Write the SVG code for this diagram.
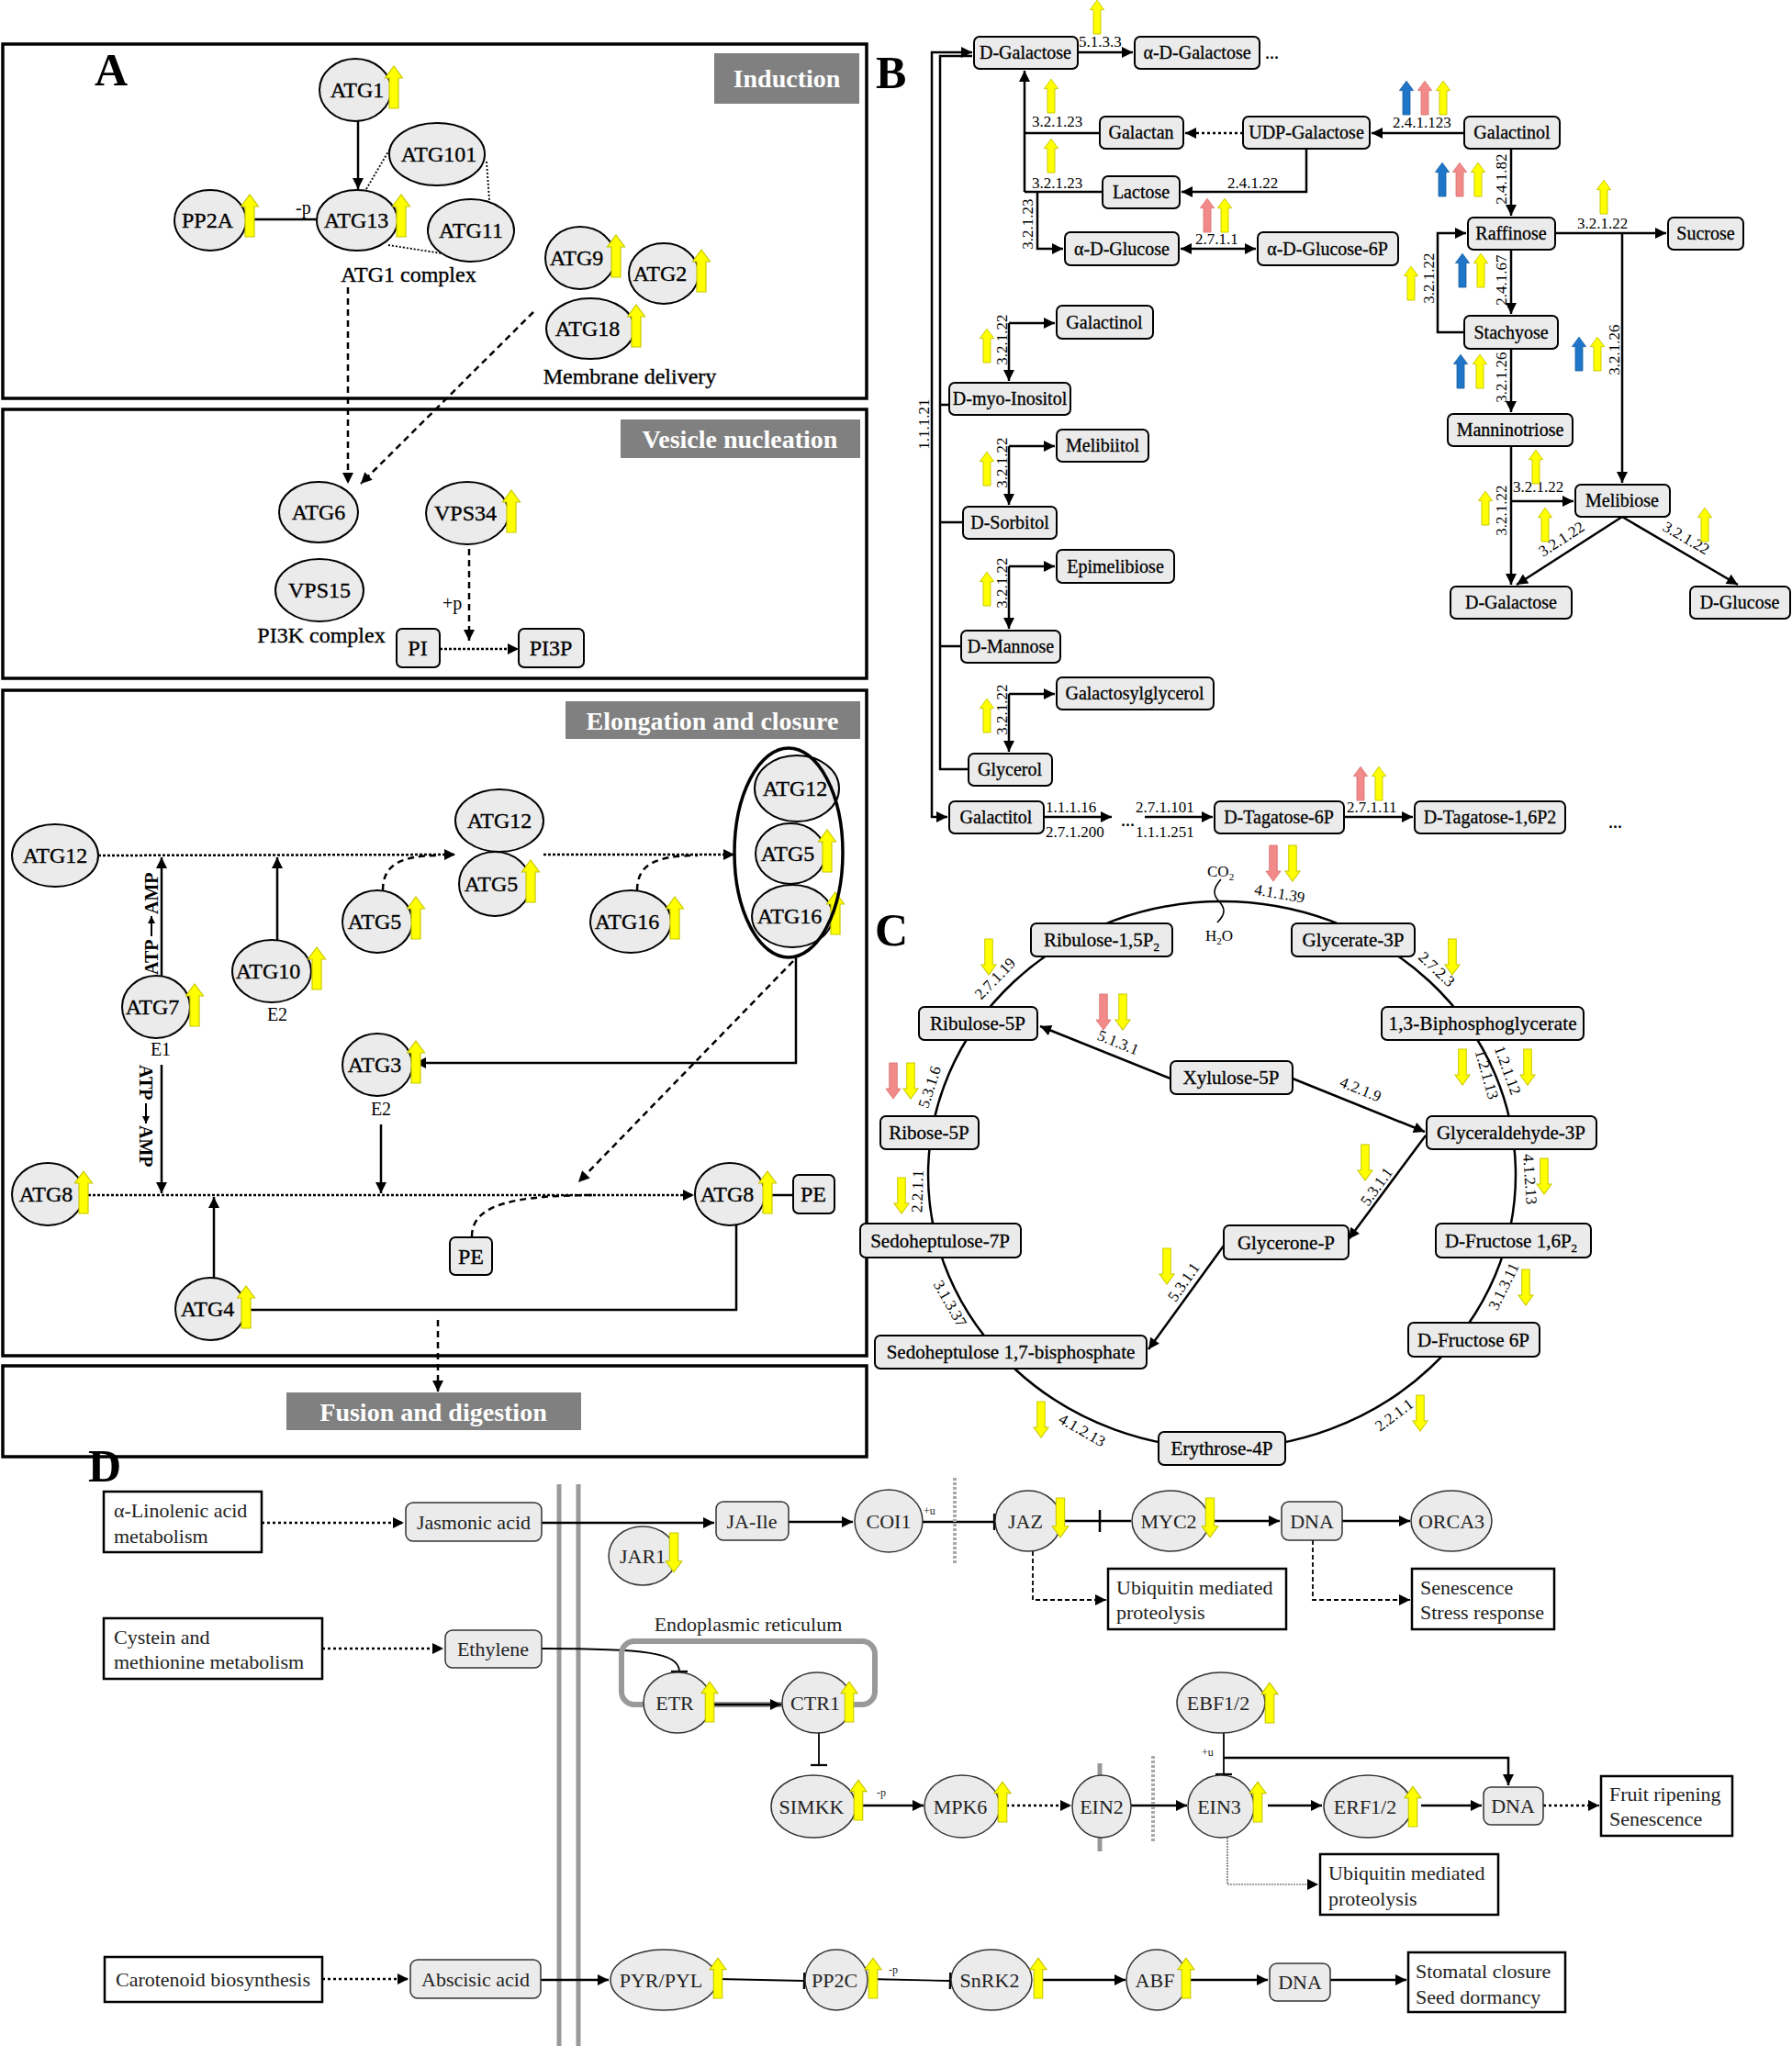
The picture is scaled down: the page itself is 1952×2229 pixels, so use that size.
<svg xmlns="http://www.w3.org/2000/svg" xmlns:xlink="http://www.w3.org/1999/xlink" width="1952" height="2229" viewBox="0 0 1952 2229">
<defs>
<style>
.s{font-family:"Liberation Serif","Times New Roman",serif}
.m{text-anchor:middle}
.a{font-size:24px;stroke:#000;stroke-width:0.35}
.w{font-size:20px;stroke:#000;stroke-width:0.3}
.c{font-size:21px;stroke:#000;stroke-width:0.3}
.e{font-size:17px}
.d{font-size:22px;fill:#222}
.sm{font-size:12px;fill:#222}
.big{font-size:50px;font-weight:bold}
.lab{font-size:28px;font-weight:bold;fill:#fff}
.n{fill:#ebebeb;stroke:#000;stroke-width:2}
.nd{fill:#ebebeb;stroke:#333;stroke-width:1.5}
.bx{fill:#ebebeb;stroke:#000;stroke-width:2}
.wb{fill:#fff;stroke:#000;stroke-width:2.5}
.pan{fill:none;stroke:#000;stroke-width:3.5}
.gl{fill:#808080}
.ln{fill:none;stroke:#000;stroke-width:2.5}
.th{fill:none;stroke:#000;stroke-width:1.8}
.dot{stroke-dasharray:3 3}
.dsh{stroke-dasharray:7 5}
.y{fill:#ffff00;stroke:#c8c800;stroke-width:1.2}
.bl{fill:#1f76c9;stroke:#165da0;stroke-width:1}
.pk{fill:#f38a8a;stroke:#d87070;stroke-width:1}
.gray{fill:none;stroke:#9a9a9a;stroke-width:5}
</style>
<marker id="ah" viewBox="0 0 10 10" refX="10" refY="5" markerWidth="15" markerHeight="12" markerUnits="userSpaceOnUse" orient="auto-start-reverse"><path d="M0,0L10,5L0,10Z"/></marker>
<marker id="as" viewBox="0 0 10 10" refX="10" refY="5" markerWidth="9" markerHeight="8" markerUnits="userSpaceOnUse" orient="auto"><path d="M0,0L10,5L0,10Z"/></marker>
<marker id="tb" viewBox="0 0 4 20" refX="2" refY="10" markerWidth="4" markerHeight="18" markerUnits="userSpaceOnUse" orient="auto"><path d="M2,0V20" stroke="#000" stroke-width="2.5"/></marker>
<path id="au" d="M-5,0V-33H-9.5L0,-46L9.5,-33H5V0Z"/>
<path id="ad" d="M-5,0V33H-9.5L0,46L9.5,33H5V0Z"/>
</defs>
<rect width="1952" height="2229" fill="#fff"/>

<!-- ================= PANEL A ================= -->
<g id="panelA-frames">
<rect class="pan" x="3" y="48" width="941" height="386"/>
<rect class="pan" x="3" y="446" width="941" height="293"/>
<rect class="pan" x="3" y="752" width="941" height="725"/>
<rect class="pan" x="3" y="1488" width="941" height="99"/>
<text class="s big" x="103" y="93">A</text>
<rect class="gl" x="778" y="58" width="158" height="55"/>
<text class="s lab m" x="857" y="95">Induction</text>
<rect class="gl" x="676" y="457" width="261" height="42"/>
<text class="s lab m" x="806" y="488">Vesicle nucleation</text>
<rect class="gl" x="616" y="764" width="321" height="41"/>
<text class="s lab m" x="776" y="795">Elongation and closure</text>
<rect class="gl" x="312" y="1517" width="321" height="41"/>
<text class="s lab m" x="472" y="1548">Fusion and digestion</text>
</g>

<g id="connectors-A">
<line class="ln" x1="390" y1="132" x2="390" y2="206" marker-end="url(#ah)"/>
<line class="ln" x1="268" y1="239" x2="345" y2="239" stroke-width="3"/>
<text class="s" x="322" y="233" font-size="20">-p</text>
<line class="th" stroke-dasharray="2 2" x1="399" y1="206" x2="426" y2="160"/>
<line class="th" stroke-dasharray="2 2" x1="530" y1="176" x2="533" y2="218"/>
<line class="th" stroke-dasharray="2 2" x1="423" y1="267" x2="481" y2="276"/>
<line class="ln dsh" x1="379" y1="313" x2="379" y2="527" marker-end="url(#ah)"/>
<line class="ln dsh" x1="581" y1="340" x2="393" y2="527" marker-end="url(#ah)"/>
<line class="ln dsh" x1="511" y1="598" x2="511" y2="698" marker-end="url(#ah)"/>
<text class="s" x="482" y="664" font-size="20">+p</text>
<line class="ln" stroke-width="3" stroke-dasharray="3 2" x1="479" y1="707" x2="565" y2="707" marker-end="url(#ah)"/>

<line class="ln" stroke-width="3" stroke-dasharray="3 2" x1="107" y1="932" x2="496" y2="931" marker-end="url(#ah)"/>
<line class="ln" x1="176" y1="1063" x2="176" y2="934" marker-end="url(#ah)"/>
<g transform="translate(172,1062) rotate(-90)"><text class="s" font-size="20" font-weight="bold">ATP</text><line x1="42" y1="-7" x2="64" y2="-7" stroke="#000" stroke-width="2" marker-end="url(#as)"/><text class="s" x="66" font-size="20" font-weight="bold">AMP</text></g>
<line class="ln" x1="176" y1="1160" x2="176" y2="1300" marker-end="url(#ah)"/>
<g transform="translate(152,1160) rotate(90)"><text class="s" font-size="20" font-weight="bold">ATP</text><line x1="42" y1="-7" x2="64" y2="-7" stroke="#000" stroke-width="2" marker-end="url(#as)"/><text class="s" x="66" font-size="20" font-weight="bold">AMP</text></g>
<line class="ln" x1="302" y1="1024" x2="302" y2="934" marker-end="url(#ah)"/>
<path class="ln dsh" stroke-width="2.5" d="M417,970C417,942 436,932 480,932"/>
<line class="ln" stroke-width="3" stroke-dasharray="3 2" x1="592" y1="931" x2="800" y2="931" marker-end="url(#ah)"/>
<path class="ln dsh" d="M694,970C694,942 714,932 760,932"/>
<path class="ln" stroke-width="3" d="M867,1043V1158H452" marker-end="url(#ah)"/>
<line class="ln dsh" x1="864" y1="1047" x2="630" y2="1288" marker-end="url(#ah)"/>
<line class="ln" x1="415" y1="1225" x2="415" y2="1300" marker-end="url(#ah)"/>
<line class="ln" stroke-width="3" stroke-dasharray="3 2" x1="91" y1="1302" x2="756" y2="1302" marker-end="url(#ah)"/>
<line class="ln" x1="233" y1="1392" x2="233" y2="1304" marker-end="url(#ah)"/>
<path class="ln dsh" d="M514,1347C514,1312 560,1302 650,1302"/>
<line class="ln" stroke-width="3" x1="833" y1="1302" x2="864" y2="1302"/>
<path class="ln" stroke-width="3" d="M272,1427H802V1335"/>
<line class="ln dsh" x1="477" y1="1438" x2="477" y2="1516" marker-end="url(#ah)"/>
</g>

<g id="nodes-A">
<g id="a-atg1"><ellipse class="n" cx="387" cy="98" rx="39" ry="34"/><text class="s a m" x="389" y="106">ATG1</text><use href="#au" class="y" transform="translate(429,118)"/></g>
<g id="a-atg101"><ellipse class="n" cx="476" cy="168" rx="52" ry="34"/><text class="s a m" x="478" y="176">ATG101</text></g>
<g id="a-atg13"><ellipse class="n" cx="389" cy="240" rx="44" ry="33"/><text class="s a m" x="388" y="248">ATG13</text><use href="#au" class="y" transform="translate(437,258)"/></g>
<g id="a-pp2a"><ellipse class="n" cx="229" cy="240" rx="39" ry="33"/><text class="s a m" x="226" y="248">PP2A</text><use href="#au" class="y" transform="translate(272,258)"/></g>
<g id="a-atg11"><ellipse class="n" cx="513" cy="251" rx="47" ry="34"/><text class="s a m" x="513" y="259">ATG11</text></g>
<text class="s a m" x="445" y="307">ATG1 complex</text>
<g id="a-atg9"><ellipse class="n" cx="632" cy="281" rx="38" ry="34"/><text class="s a m" x="628" y="289">ATG9</text><use href="#au" class="y" transform="translate(671,302)"/></g>
<g id="a-atg2"><ellipse class="n" cx="723" cy="298" rx="38" ry="33"/><text class="s a m" x="719" y="306">ATG2</text><use href="#au" class="y" transform="translate(764,318)"/></g>
<g id="a-atg18"><ellipse class="n" cx="643" cy="358" rx="48" ry="33"/><text class="s a m" x="640" y="366">ATG18</text><use href="#au" class="y" transform="translate(693,378)"/></g>
<text class="s a m" x="686" y="418">Membrane delivery</text>

<g id="a-atg6"><ellipse class="n" cx="347" cy="558" rx="43" ry="33"/><text class="s a m" x="347" y="566">ATG6</text></g>
<g id="a-vps34"><ellipse class="n" cx="509" cy="559" rx="45" ry="34"/><text class="s a m" x="507" y="567">VPS34</text><use href="#au" class="y" transform="translate(557,580)"/></g>
<g id="a-vps15"><ellipse class="n" cx="348" cy="643" rx="48" ry="34"/><text class="s a m" x="348" y="651">VPS15</text></g>
<text class="s a m" x="350" y="700">PI3K complex</text>
<g id="a-pi"><rect class="bx" x="432" y="685" width="47" height="42" rx="6"/><text class="s a m" x="455" y="714">PI</text></g>
<g id="a-pi3p"><rect class="bx" x="565" y="685" width="71" height="42" rx="6"/><text class="s a m" x="600" y="714">PI3P</text></g>

<g id="a-atg12a"><ellipse class="n" cx="60" cy="932" rx="47" ry="34"/><text class="s a m" x="60" y="940">ATG12</text></g>
<g id="a-atg7"><ellipse class="n" cx="170" cy="1097" rx="37" ry="34"/><text class="s a m" x="166" y="1105">ATG7</text><use href="#au" class="y" transform="translate(212,1118)"/></g>
<text class="s m" x="175" y="1150" font-size="20">E1</text>
<g id="a-atg10"><ellipse class="n" cx="296" cy="1058" rx="43" ry="34"/><text class="s a m" x="292" y="1066">ATG10</text><use href="#au" class="y" transform="translate(345,1078)"/></g>
<text class="s m" x="302" y="1112" font-size="20">E2</text>
<g id="a-atg5a"><ellipse class="n" cx="411" cy="1004" rx="38" ry="34"/><text class="s a m" x="408" y="1012">ATG5</text><use href="#au" class="y" transform="translate(453,1023)"/></g>
<g id="a-atg12b"><ellipse class="n" cx="544" cy="894" rx="48" ry="34"/><text class="s a m" x="544" y="902">ATG12</text></g>
<g id="a-atg5b"><ellipse class="n" cx="539" cy="963" rx="39" ry="35"/><text class="s a m" x="535" y="971">ATG5</text><use href="#au" class="y" transform="translate(578,983)"/></g>
<g id="a-atg16a"><ellipse class="n" cx="687" cy="1004" rx="44" ry="34"/><text class="s a m" x="683" y="1012">ATG16</text><use href="#au" class="y" transform="translate(735,1023)"/></g>
<g id="a-complex">
<ellipse class="n" cx="868" cy="859" rx="46" ry="36"/><text class="s a m" x="866" y="867">ATG12</text>
<ellipse class="n" cx="861" cy="930" rx="38" ry="33"/><text class="s a m" x="858" y="938">ATG5</text><use href="#au" class="y" transform="translate(901,950)"/>
<ellipse class="n" cx="863" cy="998" rx="44" ry="34"/><text class="s a m" x="860" y="1006">ATG16</text><use href="#au" class="y" transform="translate(910,1018)"/>
<ellipse cx="859" cy="929" rx="59" ry="114" fill="none" stroke="#000" stroke-width="3.5"/>
</g>
<g id="a-atg3"><ellipse class="n" cx="411" cy="1160" rx="38" ry="34"/><text class="s a m" x="408" y="1168">ATG3</text><use href="#au" class="y" transform="translate(453,1180)"/></g>
<text class="s m" x="415" y="1215" font-size="20">E2</text>
<g id="a-atg8a"><ellipse class="n" cx="52" cy="1301" rx="39" ry="34"/><text class="s a m" x="50" y="1309">ATG8</text><use href="#au" class="y" transform="translate(91,1322)"/></g>
<g id="a-atg8b"><ellipse class="n" cx="795" cy="1301" rx="38" ry="34"/><text class="s a m" x="792" y="1309">ATG8</text><use href="#au" class="y" transform="translate(836,1322)"/></g>
<g id="a-pe1"><rect class="bx" x="864" y="1280" width="45" height="42" rx="6"/><text class="s a m" x="886" y="1309">PE</text></g>
<g id="a-pe2"><rect class="bx" x="490" y="1348" width="46" height="41" rx="6"/><text class="s a m" x="513" y="1377">PE</text></g>
<g id="a-atg4"><ellipse class="n" cx="229" cy="1426" rx="38" ry="34"/><text class="s a m" x="226" y="1434">ATG4</text><use href="#au" class="y" transform="translate(268,1447)"/></g>
</g>

<!-- ================= PANEL B ================= -->
<text class="s big" x="954" y="96">B</text>
<g id="connectors-B">
<path class="ln" d="M1059,57H1015V890H1032" marker-end="url(#ah)" marker-start="url(#ah)"/>
<path class="ln" d="M1059,61H1024V838H1055"/>
<path class="ln" d="M1024,441H1034M1024,569H1049M1024,704H1047"/>
<text class="s e m" transform="translate(1012,462) rotate(-90)">1.1.1.21</text>
<line class="ln" x1="1174" y1="57" x2="1234" y2="57" marker-end="url(#ah)"/>
<text class="s e" x="1175" y="51">5.1.3.3</text>
<text class="s w" x="1378" y="64">...</text>
<path class="ln" d="M1116,209V77" marker-end="url(#ah)"/>
<path class="ln" d="M1198,145H1116M1201,209H1116"/>
<text class="s e" x="1124" y="138">3.2.1.23</text>
<text class="s e" x="1124" y="205">3.2.1.23</text>
<path class="ln" d="M1130,209V271H1158" marker-end="url(#ah)"/>
<text class="s e m" transform="translate(1125,244) rotate(-90)">3.2.1.23</text>
<line class="ln dot" x1="1354" y1="145" x2="1291" y2="145" marker-end="url(#ah)"/>
<line class="ln" x1="1595" y1="145" x2="1494" y2="145" marker-end="url(#ah)"/>
<text class="s e" x="1517" y="139">2.4.1.123</text>
<path class="ln" d="M1423,162V209H1287" marker-end="url(#ah)"/>
<text class="s e" x="1337" y="205">2.4.1.22</text>
<line class="ln" x1="1286" y1="271" x2="1368" y2="271" marker-end="url(#ah)" marker-start="url(#ah)"/>
<text class="s e" x="1302" y="266">2.7.1.1</text>
<line class="ln" x1="1646" y1="162" x2="1646" y2="235" marker-end="url(#ah)"/>
<text class="s e m" transform="translate(1641,195) rotate(-90)">2.4.1.82</text>
<line class="ln" x1="1694" y1="254" x2="1815" y2="254" marker-end="url(#ah)"/>
<text class="s e" x="1718" y="249">3.2.1.22</text>
<line class="ln" x1="1767" y1="254" x2="1767" y2="526" marker-end="url(#ah)"/>
<text class="s e m" transform="translate(1764,381) rotate(-90)">3.2.1.26</text>
<line class="ln" x1="1646" y1="272" x2="1646" y2="342" marker-end="url(#ah)"/>
<text class="s e m" transform="translate(1641,305) rotate(-90)">2.4.1.67</text>
<path class="ln" d="M1595,362H1566V254H1597" marker-end="url(#ah)"/>
<text class="s e m" transform="translate(1562,303) rotate(-90)">3.2.1.22</text>
<line class="ln" x1="1646" y1="380" x2="1646" y2="449" marker-end="url(#ah)"/>
<text class="s e m" transform="translate(1641,411) rotate(-90)">3.2.1.26</text>
<line class="ln" x1="1646" y1="486" x2="1646" y2="637" marker-end="url(#ah)"/>
<line class="ln" x1="1646" y1="546" x2="1714" y2="546" marker-end="url(#ah)"/>
<text class="s e" x="1648" y="536">3.2.1.22</text>
<text class="s e m" transform="translate(1641,556) rotate(-90)">3.2.1.22</text>
<line class="ln" x1="1767" y1="563" x2="1652" y2="637" marker-end="url(#ah)"/>
<text class="s e m" transform="translate(1704,592) rotate(-33)">3.2.1.22</text>
<line class="ln" x1="1767" y1="563" x2="1893" y2="637" marker-end="url(#ah)"/>
<text class="s e m" transform="translate(1834,591) rotate(30)">3.2.1.22</text>

<path class="ln" d="M1099,352V415" marker-end="url(#ah)"/>
<path class="ln" d="M1099,352H1149" marker-end="url(#ah)"/>
<text class="s e m" transform="translate(1097,370) rotate(-90)">3.2.1.22</text>
<path class="ln" d="M1099,486V550" marker-end="url(#ah)"/>
<path class="ln" d="M1099,486H1149" marker-end="url(#ah)"/>
<text class="s e m" transform="translate(1097,504) rotate(-90)">3.2.1.22</text>
<path class="ln" d="M1099,617V685" marker-end="url(#ah)"/>
<path class="ln" d="M1099,617H1149" marker-end="url(#ah)"/>
<text class="s e m" transform="translate(1097,635) rotate(-90)">3.2.1.22</text>
<path class="ln" d="M1099,756V819" marker-end="url(#ah)"/>
<path class="ln" d="M1099,756H1149" marker-end="url(#ah)"/>
<text class="s e m" transform="translate(1097,773) rotate(-90)">3.2.1.22</text>

<line class="ln" x1="1137" y1="890" x2="1211" y2="890" marker-end="url(#ah)"/>
<text class="s e" x="1139" y="885">1.1.1.16</text>
<text class="s e" x="1139" y="912">2.7.1.200</text>
<text class="s w" x="1221" y="900">...</text>
<line class="ln" x1="1247" y1="890" x2="1321" y2="890" marker-end="url(#ah)"/>
<text class="s e" x="1237" y="885">2.7.1.101</text>
<text class="s e" x="1237" y="912">1.1.1.251</text>
<line class="ln" x1="1464" y1="890" x2="1539" y2="890" marker-end="url(#ah)"/>
<text class="s e" x="1467" y="885">2.7.1.11</text>
<text class="s w" x="1752" y="902">...</text>
</g>

<g id="arrows-B">
<use href="#au" class="y" transform="translate(1195,37) scale(0.8)"/>
<use href="#au" class="y" transform="translate(1145,123) scale(0.8)"/>
<use href="#au" class="y" transform="translate(1145,188) scale(0.8)"/>
<use href="#au" class="bl" transform="translate(1532,125) scale(0.8)"/>
<use href="#au" class="pk" transform="translate(1552,125) scale(0.8)"/>
<use href="#au" class="y" transform="translate(1572,125) scale(0.8)"/>
<use href="#au" class="pk" transform="translate(1315,253) scale(0.8)"/>
<use href="#au" class="y" transform="translate(1334,253) scale(0.8)"/>
<use href="#au" class="bl" transform="translate(1571,214) scale(0.8)"/>
<use href="#au" class="pk" transform="translate(1590,214) scale(0.8)"/>
<use href="#au" class="y" transform="translate(1610,214) scale(0.8)"/>
<use href="#au" class="y" transform="translate(1747,233) scale(0.8)"/>
<use href="#au" class="y" transform="translate(1537,327) scale(0.8)"/>
<use href="#au" class="bl" transform="translate(1593,313) scale(0.8)"/>
<use href="#au" class="y" transform="translate(1613,313) scale(0.8)"/>
<use href="#au" class="bl" transform="translate(1720,404) scale(0.8)"/>
<use href="#au" class="y" transform="translate(1740,404) scale(0.8)"/>
<use href="#au" class="bl" transform="translate(1591,423) scale(0.8)"/>
<use href="#au" class="y" transform="translate(1612,423) scale(0.8)"/>
<use href="#au" class="y" transform="translate(1673,527) scale(0.8)"/>
<use href="#au" class="y" transform="translate(1618,572) scale(0.8)"/>
<use href="#au" class="y" transform="translate(1683,590) scale(0.8)"/>
<use href="#au" class="y" transform="translate(1857,590) scale(0.8)"/>
<use href="#au" class="y" transform="translate(1075,395) scale(0.8)"/>
<use href="#au" class="y" transform="translate(1075,529) scale(0.8)"/>
<use href="#au" class="y" transform="translate(1075,660) scale(0.8)"/>
<use href="#au" class="y" transform="translate(1075,798) scale(0.8)"/>
<use href="#au" class="pk" transform="translate(1482,872) scale(0.8)"/>
<use href="#au" class="y" transform="translate(1502,872) scale(0.8)"/>
</g>

<g id="nodes-B">
<g id="b-dgal1"><rect class="bx" x="1061" y="40" width="113" height="35" rx="6"/><text class="s w m" x="1117" y="64">D-Galactose</text></g>
<g id="b-adgal"><rect class="bx" x="1236" y="40" width="136" height="35" rx="6"/><text class="s w m" x="1304" y="64">α-D-Galactose</text></g>
<g id="b-galactan"><rect class="bx" x="1198" y="127" width="91" height="35" rx="6"/><text class="s w m" x="1243" y="151">Galactan</text></g>
<g id="b-udpgal"><rect class="bx" x="1354" y="127" width="138" height="35" rx="6"/><text class="s w m" x="1423" y="151">UDP-Galactose</text></g>
<g id="b-galactinol1"><rect class="bx" x="1595" y="127" width="104" height="35" rx="6"/><text class="s w m" x="1647" y="151">Galactinol</text></g>
<g id="b-lactose"><rect class="bx" x="1201" y="192" width="84" height="35" rx="6"/><text class="s w m" x="1243" y="216">Lactose</text></g>
<g id="b-adglc"><rect class="bx" x="1160" y="253" width="124" height="36" rx="6"/><text class="s w m" x="1222" y="278">α-D-Glucose</text></g>
<g id="b-adglc6p"><rect class="bx" x="1370" y="253" width="153" height="36" rx="6"/><text class="s w m" x="1446" y="278">α-D-Glucose-6P</text></g>
<g id="b-raffinose"><rect class="bx" x="1599" y="237" width="95" height="35" rx="6"/><text class="s w m" x="1646" y="261">Raffinose</text></g>
<g id="b-sucrose"><rect class="bx" x="1817" y="237" width="82" height="35" rx="6"/><text class="s w m" x="1858" y="261">Sucrose</text></g>
<g id="b-stachyose"><rect class="bx" x="1595" y="344" width="102" height="36" rx="6"/><text class="s w m" x="1646" y="369">Stachyose</text></g>
<g id="b-manninotriose"><rect class="bx" x="1577" y="451" width="136" height="35" rx="6"/><text class="s w m" x="1645" y="475">Manninotriose</text></g>
<g id="b-melibiose"><rect class="bx" x="1716" y="528" width="103" height="35" rx="6"/><text class="s w m" x="1767" y="552">Melibiose</text></g>
<g id="b-dgal2"><rect class="bx" x="1580" y="639" width="132" height="35" rx="6"/><text class="s w m" x="1646" y="663">D-Galactose</text></g>
<g id="b-dglc"><rect class="bx" x="1841" y="639" width="109" height="35" rx="6"/><text class="s w m" x="1895" y="663">D-Glucose</text></g>
<g id="b-galactinol2"><rect class="bx" x="1151" y="333" width="105" height="36" rx="6"/><text class="s w m" x="1203" y="358">Galactinol</text></g>
<g id="b-dmyo"><rect class="bx" x="1034" y="417" width="132" height="35" rx="6"/><text class="s w m" x="1100" y="441">D-myo-Inositol</text></g>
<g id="b-melibiitol"><rect class="bx" x="1151" y="468" width="100" height="35" rx="6"/><text class="s w m" x="1201" y="492">Melibiitol</text></g>
<g id="b-dsorbitol"><rect class="bx" x="1049" y="552" width="102" height="35" rx="6"/><text class="s w m" x="1100" y="576">D-Sorbitol</text></g>
<g id="b-epimelibiose"><rect class="bx" x="1151" y="599" width="128" height="36" rx="6"/><text class="s w m" x="1215" y="624">Epimelibiose</text></g>
<g id="b-dmannose"><rect class="bx" x="1047" y="687" width="108" height="35" rx="6"/><text class="s w m" x="1101" y="711">D-Mannose</text></g>
<g id="b-galactosylglycerol"><rect class="bx" x="1151" y="738" width="171" height="35" rx="6"/><text class="s w m" x="1236" y="762">Galactosylglycerol</text></g>
<g id="b-glycerol"><rect class="bx" x="1055" y="821" width="91" height="35" rx="6"/><text class="s w m" x="1100" y="845">Glycerol</text></g>
<g id="b-galactitol"><rect class="bx" x="1034" y="873" width="103" height="35" rx="6"/><text class="s w m" x="1085" y="897">Galactitol</text></g>
<g id="b-dtag6p"><rect class="bx" x="1323" y="873" width="141" height="35" rx="6"/><text class="s w m" x="1393" y="897">D-Tagatose-6P</text></g>
<g id="b-dtag16p2"><rect class="bx" x="1541" y="873" width="164" height="35" rx="6"/><text class="s w m" x="1623" y="897">D-Tagatose-1,6P2</text></g>
</g>

<!-- ================= PANEL C ================= -->
<text class="s big" x="953" y="1030">C</text>
<g id="connectors-C">
<ellipse cx="1331" cy="1280" rx="320" ry="298" fill="none" stroke="#000" stroke-width="2.5"/>
<path d="M1330,958C1321,968 1321,975 1328,982C1335,990 1335,996 1326,1005" fill="none" stroke="#000" stroke-width="1.6"/>
<text class="s e" x="1315" y="955">CO<tspan font-size="11" dy="4">2</tspan></text>
<text class="s e" x="1313" y="1025">H<tspan font-size="11" dy="4">2</tspan><tspan dy="-4">O</tspan></text>
<line class="ln" x1="1275" y1="1175" x2="1133" y2="1118" marker-end="url(#ah)"/>
<line class="ln" x1="1408" y1="1175" x2="1552" y2="1233" marker-end="url(#ah)"/>
<line class="ln" x1="1553" y1="1237" x2="1469" y2="1350" marker-end="url(#ah)"/>
<line class="ln" x1="1333" y1="1357" x2="1251" y2="1470" marker-end="url(#ah)"/>
<text class="s e m" transform="translate(1393,979) rotate(10)">4.1.1.39</text>
<text class="s e m" transform="translate(1088,1070) rotate(-46)">2.7.1.19</text>
<text class="s e m" transform="translate(1561,1060) rotate(43)">2.7.2.3</text>
<text class="s e m" transform="translate(1637,1168) rotate(70)">1.2.1.12</text>
<text class="s e m" transform="translate(1614,1172) rotate(74)">1.2.1.13</text>
<text class="s e m" transform="translate(1018,1186) rotate(-72)">5.3.1.6</text>
<text class="s e m" transform="translate(1005,1298) rotate(-88)">2.2.1.1</text>
<text class="s e m" transform="translate(1030,1423) rotate(60)">3.1.3.37</text>
<text class="s e m" transform="translate(1176,1563) rotate(30)">4.1.2.13</text>
<text class="s e m" transform="translate(1522,1546) rotate(-37)">2.2.1.1</text>
<text class="s e m" transform="translate(1643,1404) rotate(-64)">3.1.3.11</text>
<text class="s e m" transform="translate(1661,1285) rotate(86)">4.1.2.13</text>
<text class="s e m" transform="translate(1216,1141) rotate(22)">5.1.3.1</text>
<text class="s e m" transform="translate(1480,1192) rotate(22)">4.2.1.9</text>
<text class="s e m" transform="translate(1504,1296) rotate(-54)">5.3.1.1</text>
<text class="s e m" transform="translate(1294,1400) rotate(-55)">5.3.1.1</text>
</g>
<g id="arrows-C">
<use href="#ad" class="pk" transform="translate(1387,921) scale(0.85)"/>
<use href="#ad" class="y" transform="translate(1408,921) scale(0.85)"/>
<use href="#ad" class="y" transform="translate(1077,1023) scale(0.85)"/>
<use href="#ad" class="pk" transform="translate(1202,1083) scale(0.85)"/>
<use href="#ad" class="y" transform="translate(1223,1083) scale(0.85)"/>
<use href="#ad" class="y" transform="translate(1582,1023) scale(0.85)"/>
<use href="#ad" class="y" transform="translate(1593,1143) scale(0.85)"/>
<use href="#ad" class="y" transform="translate(1664,1143) scale(0.85)"/>
<use href="#ad" class="pk" transform="translate(973,1158) scale(0.85)"/>
<use href="#ad" class="y" transform="translate(992,1158) scale(0.85)"/>
<use href="#ad" class="y" transform="translate(982,1283) scale(0.85)"/>
<use href="#ad" class="y" transform="translate(1487,1247) scale(0.85)"/>
<use href="#ad" class="y" transform="translate(1682,1262) scale(0.85)"/>
<use href="#ad" class="y" transform="translate(1271,1360) scale(0.85)"/>
<use href="#ad" class="y" transform="translate(1662,1383) scale(0.85)"/>
<use href="#ad" class="y" transform="translate(1134,1527) scale(0.85)"/>
<use href="#ad" class="y" transform="translate(1547,1520) scale(0.85)"/>
</g>
<g id="nodes-C">
<g id="c-rubp"><rect class="bx" x="1123" y="1006" width="154" height="36" rx="6"/><text class="s c m" x="1200" y="1031">Ribulose-1,5P<tspan font-size="13" dy="5">2</tspan></text></g>
<g id="c-g3p"><rect class="bx" x="1407" y="1006" width="134" height="36" rx="6"/><text class="s c m" x="1474" y="1031">Glycerate-3P</text></g>
<g id="c-ru5p"><rect class="bx" x="1001" y="1097" width="129" height="36" rx="6"/><text class="s c m" x="1065" y="1122">Ribulose-5P</text></g>
<g id="c-bpg"><rect class="bx" x="1505" y="1097" width="220" height="36" rx="6"/><text class="s c m" x="1615" y="1122" textLength="205">1,3-Biphosphoglycerate</text></g>
<g id="c-xu5p"><rect class="bx" x="1275" y="1156" width="133" height="36" rx="6"/><text class="s c m" x="1341" y="1181">Xylulose-5P</text></g>
<g id="c-r5p"><rect class="bx" x="959" y="1216" width="107" height="36" rx="6"/><text class="s c m" x="1012" y="1241">Ribose-5P</text></g>
<g id="c-gap"><rect class="bx" x="1554" y="1216" width="185" height="36" rx="6"/><text class="s c m" x="1646" y="1241">Glyceraldehyde-3P</text></g>
<g id="c-s7p"><rect class="bx" x="937" y="1333" width="175" height="37" rx="6"/><text class="s c m" x="1024" y="1359">Sedoheptulose-7P</text></g>
<g id="c-dhap"><rect class="bx" x="1333" y="1335" width="136" height="37" rx="6"/><text class="s c m" x="1401" y="1361">Glycerone-P</text></g>
<g id="c-fbp"><rect class="bx" x="1564" y="1333" width="169" height="37" rx="6"/><text class="s c m" x="1646" y="1359">D-Fructose 1,6P<tspan font-size="13" dy="5">2</tspan></text></g>
<g id="c-sbp"><rect class="bx" x="953" y="1455" width="296" height="36" rx="6"/><text class="s c m" x="1101" y="1480">Sedoheptulose 1,7-bisphosphate</text></g>
<g id="c-f6p"><rect class="bx" x="1534" y="1441" width="143" height="37" rx="6"/><text class="s c m" x="1605" y="1467">D-Fructose 6P</text></g>
<g id="c-e4p"><rect class="bx" x="1262" y="1560" width="138" height="36" rx="6"/><text class="s c m" x="1331" y="1585">Erythrose-4P</text></g>
</g>

<!-- ================= PANEL D ================= -->
<text class="s big" x="96" y="1614">D</text>
<g id="connectors-D">
<line class="gray" x1="609" y1="1617" x2="609" y2="2229"/>
<line class="gray" x1="630" y1="1617" x2="630" y2="2229"/>
<line class="ln dot" stroke-dasharray="2 2" x1="285" y1="1659" x2="440" y2="1659" marker-end="url(#ah)"/>
<line class="ln" x1="590" y1="1659" x2="778" y2="1659" marker-end="url(#ah)"/>
<line class="ln" x1="859" y1="1658" x2="929" y2="1658" marker-end="url(#ah)"/>
<line class="ln" x1="1005" y1="1658" x2="1083" y2="1658" marker-end="url(#tb)"/>
<text class="s sm" x="1006" y="1650">+u</text>
<line x1="1040" y1="1610" x2="1040" y2="1705" stroke="#a8a8a8" stroke-width="4" stroke-dasharray="3 2"/>
<line class="ln" x1="1156" y1="1657" x2="1232" y2="1657"/>
<line class="ln" x1="1198" y1="1645" x2="1198" y2="1669"/>
<line class="ln" x1="1317" y1="1657" x2="1394" y2="1657" marker-end="url(#ah)"/>
<line class="ln" x1="1462" y1="1657" x2="1536" y2="1657" marker-end="url(#ah)"/>
<path class="th" stroke-dasharray="5 3" d="M1125,1690V1743H1205" marker-end="url(#ah)"/>
<path class="th" stroke-dasharray="5 3" d="M1430,1678V1743H1536" marker-end="url(#ah)"/>
<line class="ln dot" stroke-dasharray="2 2" x1="351" y1="1796" x2="483" y2="1796" marker-end="url(#ah)"/>
<path class="th" d="M590,1796C700,1796 740,1800 740,1821" marker-end="url(#tb)"/>
<rect x="677" y="1788" width="276" height="69" rx="14" fill="none" stroke="#999" stroke-width="6"/>
<text class="s d m" x="815" y="1777">Endoplasmic reticulum</text>
<line class="ln" stroke-width="3" x1="777" y1="1857" x2="851" y2="1857" marker-end="url(#ah)"/>
<line class="th" x1="892" y1="1888" x2="892" y2="1923" marker-end="url(#tb)"/>
<line class="th" x1="1333" y1="1888" x2="1333" y2="1933" marker-end="url(#tb)"/>
<path class="ln" d="M1333,1915H1643V1945" marker-end="url(#ah)"/>
<text class="s sm" x="1309" y="1913">+u</text>
<line class="ln" x1="940" y1="1967" x2="1006" y2="1967" marker-end="url(#ah)"/>
<text class="s sm" x="955" y="1957">-p</text>
<line class="ln dot" stroke-dasharray="2 2" x1="1096" y1="1967" x2="1167" y2="1967" marker-end="url(#ah)"/>
<line x1="1198" y1="1921" x2="1198" y2="2017" stroke="#999" stroke-width="5"/>
<line class="ln" x1="1232" y1="1967" x2="1293" y2="1967" marker-end="url(#ah)"/>
<line x1="1256" y1="1913" x2="1256" y2="2008" stroke="#a8a8a8" stroke-width="4" stroke-dasharray="3 2"/>
<line class="ln" x1="1381" y1="1967" x2="1440" y2="1967" marker-end="url(#ah)"/>
<line class="ln" x1="1548" y1="1967" x2="1614" y2="1967" marker-end="url(#ah)"/>
<line class="ln dot" stroke-dasharray="2 2" x1="1681" y1="1967" x2="1742" y2="1967" marker-end="url(#ah)"/>
<path fill="none" stroke="#444" stroke-width="1.2" stroke-dasharray="2 1" d="M1337,2002V2053H1436" marker-end="url(#ah)"/>
<line class="ln dot" stroke-dasharray="2 2" x1="351" y1="2156" x2="445" y2="2156" marker-end="url(#ah)"/>
<line class="ln" x1="589" y1="2157" x2="663" y2="2157" marker-end="url(#ah)"/>
<line class="th" x1="782" y1="2156" x2="876" y2="2158" marker-end="url(#tb)"/>
<line class="th" x1="946" y1="2156" x2="1035" y2="2158" marker-end="url(#tb)"/>
<text class="s sm" x="968" y="2150">-p</text>
<line class="ln" x1="1126" y1="2157" x2="1226" y2="2157" marker-end="url(#ah)"/>
<line class="ln" x1="1294" y1="2157" x2="1381" y2="2157" marker-end="url(#ah)"/>
<line class="ln" x1="1449" y1="2157" x2="1532" y2="2157" marker-end="url(#ah)"/>
</g>

<g id="nodes-D">
<g id="d-linolenic"><rect class="wb" x="113" y="1625" width="172" height="66"/><text class="s d" x="124" y="1653"> α-Linolenic acid</text><text class="s d" x="124" y="1681">metabolism</text></g>
<g id="d-cystein"><rect class="wb" x="113" y="1763" width="238" height="66"/><text class="s d" x="124" y="1791">Cystein and</text><text class="s d" x="124" y="1818">methionine metabolism</text></g>
<g id="d-carotenoid"><rect class="wb" x="114" y="2132" width="237" height="49"/><text class="s d m" x="232" y="2164">Carotenoid biosynthesis</text></g>
<g id="d-ubi1"><rect class="wb" x="1207" y="1709" width="194" height="66"/><text class="s d" x="1216" y="1737">Ubiquitin mediated</text><text class="s d" x="1216" y="1764">proteolysis</text></g>
<g id="d-senescence"><rect class="wb" x="1538" y="1709" width="155" height="66"/><text class="s d" x="1547" y="1737">Senescence</text><text class="s d" x="1547" y="1764">Stress response</text></g>
<g id="d-fruit"><rect class="wb" x="1744" y="1935" width="143" height="65"/><text class="s d" x="1753" y="1962">Fruit ripening</text><text class="s d" x="1753" y="1989">Senescence</text></g>
<g id="d-ubi2"><rect class="wb" x="1438" y="2020" width="194" height="66"/><text class="s d" x="1447" y="2048">Ubiquitin mediated</text><text class="s d" x="1447" y="2076">proteolysis</text></g>
<g id="d-stomatal"><rect class="wb" x="1534" y="2127" width="171" height="65"/><text class="s d" x="1542" y="2155">Stomatal closure</text><text class="s d" x="1542" y="2183">Seed dormancy</text></g>

<g id="d-ja"><rect class="nd" x="442" y="1637" width="148" height="42" rx="8"/><text class="s d m" x="516" y="1666">Jasmonic acid</text></g>
<g id="d-jaile"><rect class="nd" x="780" y="1636" width="79" height="42" rx="8"/><text class="s d m" x="819" y="1665">JA-Ile</text></g>
<g id="d-coi1"><ellipse class="nd" cx="968" cy="1657" rx="37" ry="34"/><text class="s d m" x="968" y="1665">COI1</text></g>
<g id="d-jar1"><ellipse class="nd" cx="700" cy="1695" rx="37" ry="32"/><text class="s d m" x="700" y="1703">JAR1</text><use href="#ad" class="y" transform="translate(734,1670) scale(0.93)"/></g>
<g id="d-jaz"><ellipse class="nd" cx="1120" cy="1657" rx="36" ry="33"/><text class="s d m" x="1117" y="1665">JAZ</text><use href="#ad" class="y" transform="translate(1155,1632) scale(0.93)"/></g>
<g id="d-myc2"><ellipse class="nd" cx="1275" cy="1657" rx="42" ry="33"/><text class="s d m" x="1273" y="1665">MYC2</text><use href="#ad" class="y" transform="translate(1318,1632) scale(0.93)"/></g>
<g id="d-dna1"><rect class="nd" x="1396" y="1636" width="66" height="42" rx="8"/><text class="s d m" x="1429" y="1665">DNA</text></g>
<g id="d-orca3"><ellipse class="nd" cx="1581" cy="1657" rx="44" ry="33"/><text class="s d m" x="1581" y="1665">ORCA3</text></g>
<g id="d-ethylene"><rect class="nd" x="485" y="1776" width="105" height="41" rx="8"/><text class="s d m" x="537" y="1804">Ethylene</text></g>
<g id="d-etr"><ellipse class="nd" cx="738" cy="1855" rx="37" ry="33"/><text class="s d m" x="735" y="1863">ETR</text><use href="#au" class="y" transform="translate(773,1876) scale(0.95)"/></g>
<g id="d-ctr1"><ellipse class="nd" cx="890" cy="1855" rx="38" ry="33"/><text class="s d m" x="888" y="1863">CTR1</text><use href="#au" class="y" transform="translate(925,1876) scale(0.95)"/></g>
<g id="d-ebf"><ellipse class="nd" cx="1330" cy="1855" rx="48" ry="33"/><text class="s d m" x="1327" y="1863">EBF1/2</text><use href="#au" class="y" transform="translate(1383,1877) scale(0.95)"/></g>
<g id="d-simkk"><ellipse class="nd" cx="886" cy="1968" rx="46" ry="34"/><text class="s d m" x="884" y="1976">SIMKK</text><use href="#au" class="y" transform="translate(935,1983) scale(0.95)"/></g>
<g id="d-mpk6"><ellipse class="nd" cx="1048" cy="1968" rx="41" ry="34"/><text class="s d m" x="1046" y="1976">MPK6</text><use href="#au" class="y" transform="translate(1092,1985) scale(0.95)"/></g>
<g id="d-ein2"><ellipse class="nd" cx="1200" cy="1968" rx="32" ry="34"/><text class="s d m" x="1200" y="1976">EIN2</text></g>
<g id="d-ein3"><ellipse class="nd" cx="1330" cy="1968" rx="36" ry="34"/><text class="s d m" x="1328" y="1976">EIN3</text><use href="#au" class="y" transform="translate(1370,1985) scale(0.95)"/></g>
<g id="d-erf"><ellipse class="nd" cx="1490" cy="1968" rx="48" ry="34"/><text class="s d m" x="1487" y="1976">ERF1/2</text><use href="#au" class="y" transform="translate(1539,1990) scale(0.95)"/></g>
<g id="d-dna2"><rect class="nd" x="1616" y="1947" width="65" height="41" rx="8"/><text class="s d m" x="1648" y="1975">DNA</text></g>
<g id="d-aba"><rect class="nd" x="447" y="2135" width="142" height="42" rx="8"/><text class="s d m" x="518" y="2164">Abscisic acid</text></g>
<g id="d-pyr"><ellipse class="nd" cx="723" cy="2157" rx="58" ry="33"/><text class="s d m" x="720" y="2165">PYR/PYL</text><use href="#au" class="y" transform="translate(782,2177) scale(0.95)"/></g>
<g id="d-pp2c"><ellipse class="nd" cx="911" cy="2157" rx="34" ry="33"/><text class="s d m" x="909" y="2165">PP2C</text><use href="#au" class="y" transform="translate(951,2177) scale(0.95)"/></g>
<g id="d-snrk2"><ellipse class="nd" cx="1080" cy="2157" rx="44" ry="33"/><text class="s d m" x="1078" y="2165">SnRK2</text><use href="#au" class="y" transform="translate(1131,2177) scale(0.95)"/></g>
<g id="d-abf"><ellipse class="nd" cx="1260" cy="2157" rx="33" ry="33"/><text class="s d m" x="1258" y="2165">ABF</text><use href="#au" class="y" transform="translate(1292,2177) scale(0.95)"/></g>
<g id="d-dna3"><rect class="nd" x="1383" y="2139" width="66" height="41" rx="8"/><text class="s d m" x="1416" y="2167">DNA</text></g>
</g>
</svg>
